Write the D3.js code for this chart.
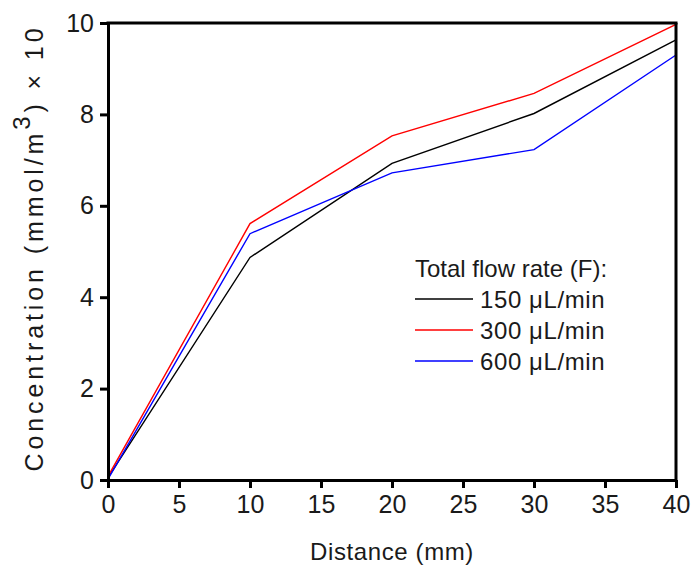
<!DOCTYPE html>
<html>
<head>
<meta charset="utf-8">
<script src="https://cdn.jsdelivr.net/npm/d3@7"></script>
<style>
  body { margin: 0; background: #fff; }
  svg { font-family: "Liberation Sans", Arial, sans-serif; }
</style>
</head>
<body>
<div id="chart"></div>
<script>
const width = 692;
const height = 572;
const margin = { top: 23, right: 16, bottom: 92, left: 108 };

// distance along channel (mm)
const distance = [0, 10, 20, 30, 40];
const seriesNames = ['150 μL/min', '300 μL/min', '600 μL/min'];
const seriesColors = ['#000000', '#ff0000', '#0000ff'];
const conc150 = [0.05, 4.87, 6.93, 8.02, 9.63];
const conc300 = [0.08, 5.61, 7.53, 8.46, 9.97];
const conc600 = [0.02, 5.39, 6.72, 7.23, 9.3];
const xTicks = [0, 5, 10, 15, 20, 25, 30, 35, 40];
const yTicks = [0, 2, 4, 6, 8, 10];

const series = [conc150, conc300, conc600].map((vals, i) => ({
    name: seriesNames[i],
    color: seriesColors[i],
    values: vals.map((v, j) => ({ x: distance[j], y: v }))
}));

const svg = d3.select('#chart')
    .append('svg')
    .attr('width', width)
    .attr('height', height);

const x = d3.scaleLinear()
    .domain([0, 40])
    .range([margin.left, width - margin.right]);
const y = d3.scaleLinear()
    .domain([0, 10])
    .range([height - margin.bottom, margin.top]);

const fontSize = 24;
const tickFont = 25;
const textColor = '#1a1a1a';

// data lines
const line = d3.line().x(d => x(d.x)).y(d => y(d.y));
svg.append('g')
    .selectAll('path')
    .data(series)
    .join('path')
    .attr('fill', 'none')
    .attr('stroke', d => d.color)
    .attr('stroke-width', 1.4)
    .attr('d', d => line(d.values));

// axes (box frame with outward ticks)
const xAxis = svg.append('g')
    .attr('transform', `translate(0,${y(0)})`)
    .call(d3.axisBottom(x).tickValues(xTicks).tickSize(8).tickPadding(7).tickSizeOuter(0));
const yAxis = svg.append('g')
    .attr('transform', `translate(${x(0)},0)`)
    .call(d3.axisLeft(y).tickValues(yTicks).tickSize(8).tickPadding(6).tickSizeOuter(0));

[xAxis, yAxis].forEach(ax => {
    ax.select('.domain').attr('stroke', '#000').attr('stroke-width', 3);
    ax.selectAll('.tick line').attr('stroke', '#000').attr('stroke-width', 3);
    ax.selectAll('.tick text')
        .attr('fill', textColor)
        .style('font-size', tickFont + 'px')
        .style('font-family', '"Liberation Sans", Arial, sans-serif');
});

// top and right frame lines
svg.append('line')
    .attr('x1', x(0) - 1.5).attr('x2', x(40) + 1.5)
    .attr('y1', y(10)).attr('y2', y(10))
    .attr('stroke', '#000').attr('stroke-width', 3);
svg.append('line')
    .attr('x1', x(40)).attr('x2', x(40))
    .attr('y1', y(10)).attr('y2', y(0))
    .attr('stroke', '#000').attr('stroke-width', 3);

// axis titles
svg.append('text')
    .attr('x', x(20))
    .attr('y', 560)
    .attr('text-anchor', 'middle')
    .attr('fill', textColor)
    .style('font-size', fontSize + 'px')
    .style('letter-spacing', '0.6px')
    .text('Distance (mm)');

const yTitle = svg.append('text')
    .attr('transform', `translate(43,248) rotate(-90)`)
    .attr('text-anchor', 'middle')
    .attr('fill', textColor)
    .style('font-size', '25px')
    .style('letter-spacing', '3.9px');
yTitle.append('tspan').text('Concentration (mmol/m');
yTitle.append('tspan').attr('dy', -13).style('font-size', '24px').text('3');
yTitle.append('tspan').attr('dy', 13).text(') × 10');

// legend
const legend = svg.append('g').attr('transform', 'translate(415,0)');
legend.append('text')
    .attr('x', 0).attr('y', 277)
    .attr('fill', textColor)
    .style('font-size', fontSize + 'px')
    .text('Total flow rate (F):');
const items = legend.selectAll('g.item')
    .data(series)
    .join('g')
    .attr('class', 'item')
    .attr('transform', (d, i) => `translate(0,${299 + i * 31})`);
items.append('line')
    .attr('x1', 0).attr('x2', 58)
    .attr('stroke', d => d.color)
    .attr('stroke-width', 1.4);
items.append('text')
    .attr('x', 65).attr('y', 9)
    .attr('fill', textColor)
    .style('font-size', fontSize + 'px')
    .style('letter-spacing', '0.6px')
    .text(d => d.name);
</script>
</body>
</html>
